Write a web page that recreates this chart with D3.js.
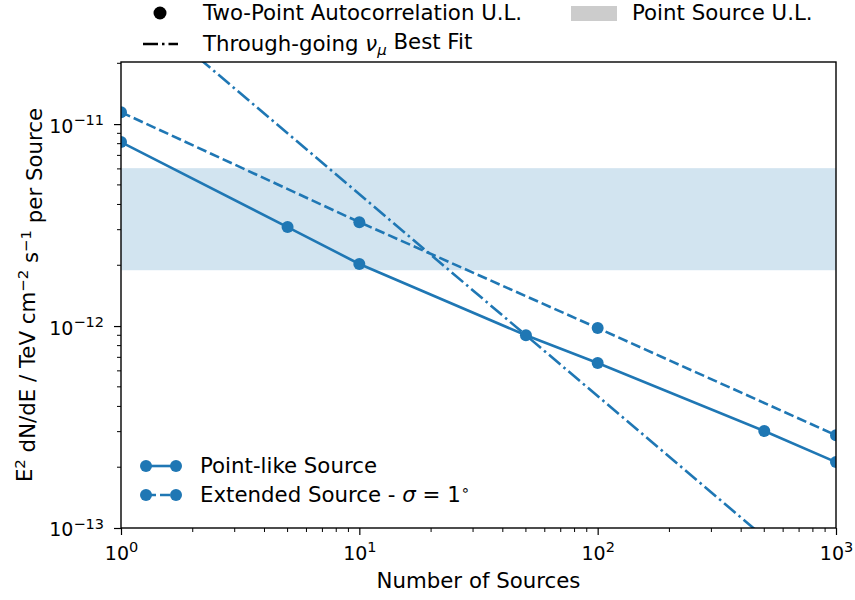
<!DOCTYPE html>
<html>
<head>
<meta charset="utf-8">
<script src="https://cdn.jsdelivr.net/npm/d3@7"></script>
<style>
body { margin: 0; background: #fff; }
svg text { font-family: "DejaVu Sans", sans-serif; }
</style>
</head>
<body>
<svg width="855" height="600"></svg>
<script>
const width = 855
const height = 600
const margin = {left: 121, right: 19, top: 62, bottom: 72}

// data
const pointN = [1, 5, 10, 50, 100, 500, 1000]
const pointUL = [8.15e-12, 3.09e-12, 2.03e-12, 9.0e-13, 6.56e-13, 3.02e-13, 2.12e-13]
const extN = [1, 10, 100, 1000]
const extUL = [1.146e-11, 3.27e-12, 9.77e-13, 2.88e-13]
const fitN = [1, 1000]
const fitFlux = [4.5e-11, 4.5e-14]
const bandRange = [1.89e-12, 6.05e-12]
const xTicks = [1, 10, 100, 1000]
const yTicks = [1e-13, 1e-12, 1e-11]

const blue = "#1f77b4"
const fs = 21.3
const tfs = 19

const svg = d3.select("svg")
const pw = width - margin.left - margin.right
const ph = height - margin.top - margin.bottom

const x = d3.scaleLog().domain([1, 1000]).range([0, pw])
const y = d3.scaleLog().domain([1e-13, 2.03e-11]).range([ph, 0])

const g = svg.append("g").attr("transform", "translate(" + margin.left + "," + margin.top + ")")

g.append("defs").append("clipPath").attr("id", "clip")
  .append("rect").attr("width", pw).attr("height", ph)

const plot = g.append("g").attr("clip-path", "url(#clip)")

// point source band
plot.append("rect")
  .attr("x", 0).attr("width", pw)
  .attr("y", y(bandRange[1]))
  .attr("height", y(bandRange[0]) - y(bandRange[1]))
  .attr("fill", blue).attr("fill-opacity", 0.2)

const line = d3.line().x(d => x(d[0])).y(d => y(d[1]))

plot.append("path")
  .datum(fitN.map((n, i) => [n, fitFlux[i]]))
  .attr("d", line).attr("fill", "none")
  .attr("stroke", blue).attr("stroke-width", 2.6)
  .attr("stroke-dasharray", "15,4,2.5,4")

function series(ns, vals, dash) {
  const pts = ns.map((n, i) => [n, vals[i]])
  plot.append("path").datum(pts).attr("d", line)
    .attr("fill", "none").attr("stroke", blue).attr("stroke-width", 2.6)
    .attr("stroke-dasharray", dash)
  plot.selectAll(null).data(pts).enter().append("circle")
    .attr("cx", d => x(d[0])).attr("cy", d => y(d[1]))
    .attr("r", 6).attr("fill", blue)
}
series(extN, extUL, "10,4")
series(pointN, pointUL, null)

// axes
function supLabel(sel, e) {
  sel.text(null)
  sel.append("tspan").text("10")
  sel.append("tspan").attr("dy", "-0.55em").attr("font-size", "14.5px")
    .text(String(e).replace("-", "\u2212"))
}

const xAxis = g.append("g").attr("transform", "translate(0," + ph + ")")
  .call(d3.axisBottom(x).tickValues(xTicks).tickSize(7).tickPadding(8).tickFormat(""))
xAxis.selectAll(".tick text").each(function(d) {
  supLabel(d3.select(this), Math.round(Math.log10(d)))
}).attr("font-size", tfs + "px").attr("fill", "#000").attr("dy", "0.9em")
const xMinor = []
for (let dec = 1; dec < 1000; dec *= 10) for (let k = 2; k < 10; k++) xMinor.push(dec * k)
xAxis.selectAll(".minor").data(xMinor).enter().append("line")
  .attr("x1", d => x(d)).attr("x2", d => x(d)).attr("y1", 0).attr("y2", 4)
  .attr("stroke", "#000").attr("stroke-width", 1)

const yAxis = g.append("g")
  .call(d3.axisLeft(y).tickValues(yTicks).tickSize(7).tickPadding(10).tickFormat(""))
yAxis.selectAll(".tick text").each(function(d) {
  supLabel(d3.select(this), Math.round(Math.log10(d)))
}).attr("font-size", tfs + "px").attr("fill", "#000").attr("dy", "0.42em")
const yMinor = []
for (let dec = 1e-13; dec < 1.5e-11; dec *= 10) for (let k = 2; k < 10; k++) if (dec * k < 2.03e-11) yMinor.push(dec * k)
yAxis.selectAll(".minor").data(yMinor).enter().append("line")
  .attr("y1", d => y(d)).attr("y2", d => y(d)).attr("x1", 0).attr("x2", -4)
  .attr("stroke", "#000").attr("stroke-width", 1)

g.selectAll(".domain").remove()
g.selectAll(".tick line").attr("stroke", "#000").attr("stroke-width", 1.2)
g.append("rect").attr("width", pw).attr("height", ph)
  .attr("fill", "none").attr("stroke", "#000").attr("stroke-width", 1.4)

// axis titles
svg.append("text").attr("x", margin.left + pw / 2).attr("y", 588)
  .attr("text-anchor", "middle").attr("font-size", fs + "px").text("Number of Sources")

const yl = svg.append("text")
  .attr("transform", "translate(32," + (margin.top + ph / 2) + ") rotate(-90)")
  .attr("text-anchor", "middle").attr("font-size", fs + "px")
yl.append("tspan").text("E")
yl.append("tspan").attr("dy", "-0.5em").attr("font-size", fs * 0.7 + "px").text("2")
yl.append("tspan").attr("dy", "0.5em").text(" dN/dE / TeV cm")
yl.append("tspan").attr("dy", "-0.5em").attr("font-size", fs * 0.7 + "px").text("\u22122")
yl.append("tspan").attr("dy", "0.5em").text(" s")
yl.append("tspan").attr("dy", "-0.5em").attr("font-size", fs * 0.7 + "px").text("\u22121")
yl.append("tspan").attr("dy", "0.5em").text(" per Source")

// top legend
const topLeg = svg.append("g")
topLeg.append("circle").attr("cx", 160).attr("cy", 13).attr("r", 6.5).attr("fill", "#000")
topLeg.append("text").attr("x", 203).attr("y", 20).attr("font-size", fs + "px").text("Two-Point Autocorrelation U.L.")
topLeg.append("line").attr("x1", 143).attr("x2", 178).attr("y1", 44).attr("y2", 44)
  .attr("stroke", "#000").attr("stroke-width", 2.6).attr("stroke-dasharray", "15,4,2.5,4")
const tg = topLeg.append("text").attr("x", 203).attr("y", 51).attr("font-size", fs + "px")
tg.append("tspan").text("Through-going ")
tg.append("tspan").attr("font-style", "italic").text("\u03bd")
tg.append("tspan").attr("font-style", "italic").attr("dy", "0.3em").attr("font-size", fs * 0.7 + "px").text("\u03bc")
tg.append("tspan").attr("dy", "-0.3em").text(" Best Fit")
topLeg.append("rect").attr("x", 571).attr("y", 6).attr("width", 46).attr("height", 15).attr("fill", "#cccccc")
topLeg.append("text").attr("x", 632).attr("y", 20).attr("font-size", fs + "px").text("Point Source U.L.")

// bottom legend
const legItems = [
  {label: "Point-like Source", dash: null, yy: 466},
  {label: "Extended Source - ", dash: "10,4", yy: 495}
]
legItems.forEach(function(d, i) {
  svg.append("line").attr("x1", 146).attr("x2", 176).attr("y1", d.yy).attr("y2", d.yy)
    .attr("stroke", blue).attr("stroke-width", 2.6).attr("stroke-dasharray", d.dash)
  svg.append("circle").attr("cx", 146).attr("cy", d.yy).attr("r", 6).attr("fill", blue)
  svg.append("circle").attr("cx", 176).attr("cy", d.yy).attr("r", 6).attr("fill", blue)
  const t = svg.append("text").attr("x", 200).attr("y", d.yy + 7).attr("font-size", fs + "px")
  t.append("tspan").text(d.label)
  if (i === 1) {
    t.append("tspan").attr("font-style", "italic").text("\u03c3")
    t.append("tspan").text(" = 1")
    t.append("tspan").attr("dy", "-0.5em").attr("font-size", fs * 0.7 + "px").text("\u2218")
  }
})
</script>
</body>
</html>
